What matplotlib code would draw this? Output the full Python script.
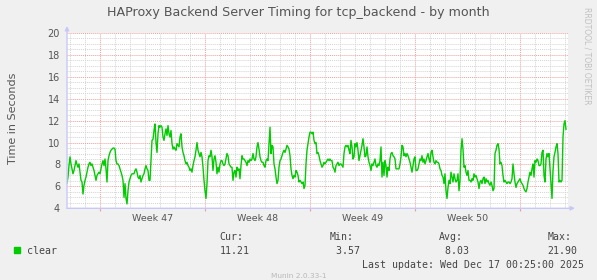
import datetime as dt
import matplotlib
matplotlib.use("Agg")
import matplotlib.pyplot as plt
import matplotlib.dates as mdates
from matplotlib.patches import Rectangle

# averaged response time (seconds), one sample every 96 minutes
start_time = dt.datetime(2025, 11, 14, 19, 12)
step = dt.timedelta(minutes=96)
timing_s = [
    6.3, 6.85, 7.9, 8.7, 8.05, 7.6, 7.15, 7.45, 7.9, 8.35,
    8.0, 7.75, 8.05, 7.3, 6.55, 6.4, 5.3, 6.1, 6.55, 6.85,
    7.3, 7.75, 8.05, 8.2, 7.9, 8.05, 7.75, 7.45, 7.0, 6.55,
    7.0, 7.15, 7.3, 7.15, 7.6, 8.05, 8.35, 7.9, 8.5, 7.6,
    6.4, 8.35, 8.8, 9.1, 9.3, 9.4, 9.5, 9.5, 9.4, 8.35,
    8.05, 8.05, 7.9, 7.6, 7.3, 7.0, 6.55, 5.0, 6.25, 4.9,
    4.4, 5.6, 6.4, 6.7, 7.0, 7.15, 7.15, 7.15, 7.45, 7.6,
    7.3, 6.85, 6.7, 7.0, 6.4, 6.7, 7.0, 7.15, 7.6, 7.9,
    7.6, 7.45, 6.55,
    6.55, 8.35, 10.2, 10.3, 11.1, 11.7, 10.0, 9.1, 10.8, 11.55,
    11.4, 11.55, 11.4, 10.5, 10.2, 10.8, 11.25, 10.65, 11.55, 10.8,
    10.5, 11.1, 9.9, 9.4, 9.6, 9.4, 9.3, 9.9, 9.75, 9.6,
    10.5, 10.8, 9.6, 9.1, 8.8, 8.35, 8.05, 8.2, 7.9, 7.75,
    7.45, 7.6, 7.3, 7.9, 8.35, 8.7, 9.3, 10.0, 9.3, 9.0,
    8.7, 9.1, 8.7, 7.75, 6.55, 5.6, 4.9, 6.25, 8.35, 8.8,
    8.7, 9.3, 8.7, 7.45, 8.5, 8.8, 8.2, 7.15, 7.75, 7.3,
    8.05, 8.35, 8.35, 8.05, 7.9, 8.05, 8.5, 9.0, 8.8, 8.05,
    7.9, 7.75, 7.75, 6.55, 7.3, 7.45, 6.85, 7.75, 7.45, 7.6,
    6.7, 7.9, 8.8, 8.5, 8.5, 8.35, 8.2, 7.9, 8.35, 8.2,
    8.5, 8.35, 8.5, 9.0, 8.5, 8.35, 8.7, 9.6, 10.0, 9.4,
    8.7, 8.35, 8.2, 8.2, 7.9, 7.75, 8.35, 8.5, 8.35, 9.9,
    11.4, 9.0, 9.75, 9.6, 8.05, 7.6, 6.85, 6.25, 6.55, 7.75,
    8.35, 8.5, 8.8, 9.1, 9.3, 9.1, 9.4, 9.75, 9.6, 9.4,
    8.8, 7.6, 7.0, 6.7, 7.0, 6.85, 7.45, 7.3, 7.0, 6.4,
    6.55, 6.4, 6.25, 6.4, 5.8, 6.1, 8.05, 9.3, 9.9, 10.5,
    10.95, 10.95, 10.8, 10.95, 10.2, 9.9, 10.0, 9.0, 9.1, 8.8,
    8.35, 8.05, 7.75, 7.9, 8.2, 8.05,
    8.2, 8.35, 8.5, 8.35, 8.5, 8.35, 8.35, 7.75, 7.6, 7.3,
    7.9, 8.05, 8.2, 7.9, 8.05, 8.05, 7.9, 7.75, 9.0, 9.6,
    9.75, 9.6, 9.75, 9.3, 9.0, 10.2, 9.6, 8.5, 8.7, 9.9,
    9.6, 10.0, 9.3, 8.35, 8.8, 9.3, 9.75, 10.35, 9.6, 8.7,
    8.8, 9.6, 8.7, 8.2, 7.9, 7.45, 8.05, 7.9, 8.2, 8.5,
    7.9, 7.75, 8.05, 7.9, 8.35, 9.6, 6.85, 8.2, 7.0, 8.35,
    7.9, 6.85, 7.75, 7.45, 8.5, 9.0, 9.1, 8.8, 8.7, 8.5,
    7.6, 7.6, 7.6, 7.6, 8.05, 8.7, 9.75, 9.6, 8.8, 9.0,
    8.7, 9.0, 8.8, 8.5, 8.2, 7.75,
    7.3, 7.9, 8.5, 8.7, 7.45, 7.45, 7.6, 8.05, 8.5, 8.35,
    8.8, 8.2, 8.5, 8.05, 8.35, 8.7, 9.0, 8.5, 8.2, 9.1,
    9.3, 8.7, 8.2, 8.05, 8.35, 8.2, 8.2, 8.05, 7.6, 7.45,
    7.0, 6.85, 6.25, 7.15, 5.6, 4.9, 5.9, 6.55, 6.25, 7.3,
    6.85, 6.4, 7.15, 6.7, 6.4, 6.55, 7.15, 5.6, 6.55, 9.3,
    10.35, 9.4, 7.75, 7.9, 7.3, 7.0, 7.45, 6.55, 6.55, 6.4,
    6.7, 6.55, 7.15, 6.85, 7.0, 6.7, 6.4, 5.8, 6.4, 6.55,
    6.25, 6.7, 6.85, 6.25, 6.7, 6.4, 6.55, 6.25, 6.1, 6.4,
    6.1, 5.6, 5.8, 9.0, 9.3, 9.75,
    9.9, 9.4, 8.05, 8.2, 7.9, 7.0, 6.4, 6.55, 6.4, 6.25,
    6.4, 6.4, 6.25, 6.4, 6.7, 8.05, 7.15, 6.4, 5.9, 6.25,
    6.4, 6.55, 6.7, 6.4, 6.25, 6.1, 5.8, 5.6, 5.5, 5.8,
    6.4, 6.85, 7.3, 7.0, 7.6, 8.05, 6.85, 8.35, 8.2, 8.5,
    8.35, 7.9, 7.9, 8.05, 9.1, 9.3, 7.0, 6.4, 8.5, 9.0,
    8.7, 9.0, 7.6, 6.1, 4.9, 7.45, 8.7, 9.1, 9.6, 9.9,
    9.0, 6.4, 6.55, 6.4, 6.55, 10.5, 11.7, 12.0, 11.2,
]
times = [start_time + i * step for i in range(len(timing_s))]
end_time = start_time + 501 * step

series_name = "clear"
stat_names = ["Cur:", "Min:", "Avg:", "Max:"]
stat_values = [11.21, 3.57, 8.03, 21.90]
last_update = "Last update: Wed Dec 17 00:25:00 2025"

W, H = 597, 280
bg = "#f0f0f0"
text_col = "#555555"

fig = plt.figure(figsize=(W / 100, H / 100), dpi=100, facecolor=bg)
ax = fig.add_axes([67 / W, (H - 208.3) / H, 501 / W, 175.3 / H])
ax.set_facecolor("white")

ax.plot(times, timing_s, color="#00cc00", linewidth=1.0, zorder=3)

ax.set_xlim(start_time, end_time)
ax.set_ylim(4, 20)
ax.set_yticks(range(4, 21, 2))
ax.set_yticks([v / 2 for v in range(8, 41)], minor=True)
ax.xaxis.set_major_locator(mdates.WeekdayLocator(byweekday=mdates.MO))
ax.xaxis.set_minor_locator(mdates.DayLocator())
ax.xaxis.set_major_formatter(plt.NullFormatter())

dots = (0, (1, 1))
ax.grid(which="minor", color="#d4d4d4", linestyle=dots, linewidth=0.7, zorder=1)
ax.grid(which="major", color="#f0a0a0", linestyle=dots, linewidth=0.7, zorder=2)

for s in ax.spines.values():
    s.set_visible(False)
ax.tick_params(axis="y", which="both", length=0, labelsize=7, labelcolor=text_col, pad=5)
ax.tick_params(axis="x", which="major", length=2, color="#f0a0a0", direction="out")
ax.tick_params(axis="x", which="minor", length=0)

# week labels centred in each week
monday = dt.datetime(2025, 11, 10)
while monday < end_time:
    mid = monday + dt.timedelta(days=3.5)
    if start_time < mid < end_time:
        ax.text(mid, -0.03, "Week %d" % monday.isocalendar().week, transform=ax.get_xaxis_transform(),
                ha="center", va="top", fontsize=6.8, color=text_col)
    monday += dt.timedelta(days=7)

# axes with arrows
axis_col = "#c8c8f8"
ax.annotate("", xy=(0, 1 + 7 / 175), xytext=(0, 0), xycoords="axes fraction",
            arrowprops=dict(arrowstyle="-|>", color=axis_col, lw=1, mutation_scale=6, shrinkA=0, shrinkB=0))
ax.annotate("", xy=(1 + 7 / 501, 0), xytext=(0, 0), xycoords="axes fraction",
            arrowprops=dict(arrowstyle="-|>", color=axis_col, lw=1, mutation_scale=6, shrinkA=0, shrinkB=0))

def px(x, y):
    return x / W, 1 - y / H

fig.text(*px(298, 12.5), "HAProxy Backend Server Timing for tcp_backend - by month",
         ha="center", va="center", fontsize=9.1, color=text_col)
fig.text(*px(13, 118), "Time in Seconds", rotation=90, ha="center", va="center",
         fontsize=8, color=text_col)
fig.text(*px(587, 56), "RRDTOOL / TOBI OETIKER", rotation=270, ha="center", va="center",
         fontsize=5.5, color="#c0c0c0")

mono = dict(family="DejaVu Sans Mono", fontsize=7.1, color="#444444", va="center")
fig.patches.append(Rectangle(px(14, 253), 6 / W, 6 / H, transform=fig.transFigure,
                             color="#00cc00", zorder=5))
fig.text(*px(26.5, 250.5), series_name, ha="left", **mono)
stat_x = [219.5, 329.5, 439, 547.5]
for x, name, val in zip(stat_x, stat_names, stat_values):
    fig.text(*px(x, 237.5), name, ha="left", **mono)
    fig.text(*px(x, 250.5), "%5.2f" % val, ha="left", **mono)
fig.text(*px(583.5, 264.5), last_update, ha="right", **mono)
fig.text(*px(299, 276), "Munin 2.0.33-1", ha="center", va="center", fontsize=5.3, color="#b8b8b8")

fig.savefig("out.png", dpi=100, facecolor=bg)
